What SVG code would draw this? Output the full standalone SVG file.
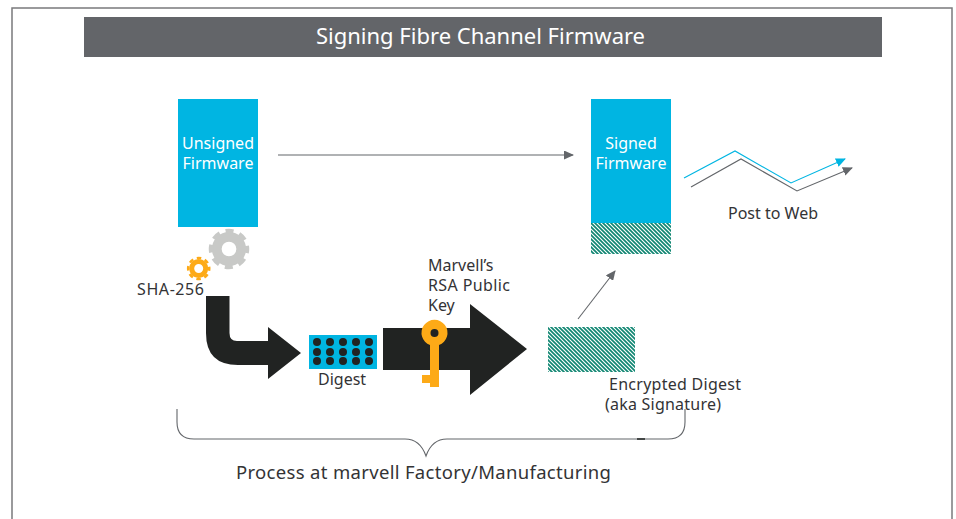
<svg xmlns="http://www.w3.org/2000/svg" width="956" height="519" viewBox="0 0 956 519">
<style>
text{font-family:"Noto Sans","Open Sans","Liberation Sans",sans-serif;font-size:16px;fill:#333335}
.w{fill:#fff;text-anchor:middle}
.blue{fill:#00b5e2}
.dark{fill:#212322}
.ln{fill:none;stroke:#63666a;stroke-width:1.1}
.gold{fill:#fdaa17}
</style>
<defs>
<pattern id="h" width="4" height="4" patternUnits="userSpaceOnUse">
<rect width="4" height="4" fill="#fff"/>
<path d="M-1,-1L5,5M-1,3L1,5M3,-1L5,1" stroke="#108672" stroke-width="1.7"/>
</pattern>
<marker id="ag" markerWidth="10" markerHeight="9" refX="9" refY="4.5" orient="auto" markerUnits="userSpaceOnUse"><path d="M0,0L10,4.5L0,9z" fill="#63666a"/></marker>
<marker id="ab" markerWidth="10" markerHeight="9" refX="9" refY="4.5" orient="auto" markerUnits="userSpaceOnUse"><path d="M0,0L10,4.5L0,9z" fill="#00b5e2"/></marker>
</defs>
<rect x="12" y="8" width="940" height="530" fill="#fff" stroke="#7a7a7c" stroke-width="1.5"/>
<g id="title"><rect x="84" y="17" width="798" height="40" fill="#636569"/><text class="w" x="480.500" y="44" style="font-size:22px">Signing Fibre Channel Firmware</text></g>
<g id="unsigned"><rect class="blue" x="178" y="99" width="80" height="128"/><text class="w" x="218" y="149">Unsigned</text><text class="w" x="218" y="169">Firmware</text></g>
<g id="signed"><rect class="blue" x="591" y="99" width="80" height="124"/><rect x="591" y="223" width="80" height="31" fill="url(#h)"/><text class="w" x="631" y="149">Signed</text><text class="w" x="631" y="169">Firmware</text></g>
<g id="gear-large" fill="none" stroke="#c8c9c7"><circle cx="229" cy="249" r="12.200" stroke-width="9.700"/><circle cx="229" cy="249" r="18" stroke-width="4.500" stroke-dasharray="8 6.137" stroke-dashoffset="4"/></g>
<g id="gear-small" fill="none" stroke="#fdaa17"><circle cx="198.700" cy="268.500" r="7" stroke-width="5"/><circle cx="198.700" cy="268.500" r="10.500" stroke-width="2.600" stroke-dasharray="4.500 3.747" stroke-dashoffset="2.250"/></g>
<g id="sha"><text x="137" y="295" textLength="67">SHA-256</text></g>
<g id="hash-arrow"><path class="dark" d="M206,296H229.500V333Q229.500,341 237,341H268V327L301,353L268,379V365H238Q206,365 206,333Z"/></g>
<g id="digest"><rect class="blue" x="309" y="335" width="68" height="34"/>
<g class="dark"><circle cx="317" cy="342" r="4"/><circle cx="330" cy="342" r="4"/><circle cx="343" cy="342" r="4"/><circle cx="356" cy="342" r="4"/><circle cx="369" cy="342" r="4"/><circle cx="317" cy="352" r="4"/><circle cx="330" cy="352" r="4"/><circle cx="343" cy="352" r="4"/><circle cx="356" cy="352" r="4"/><circle cx="369" cy="352" r="4"/><circle cx="317" cy="361" r="4"/><circle cx="330" cy="361" r="4"/><circle cx="343" cy="361" r="4"/><circle cx="356" cy="361" r="4"/><circle cx="369" cy="361" r="4"/></g>
<text x="318" y="385">Digest</text></g>
<g id="rsa-arrow"><path class="dark" d="M383,328H470V304L527,349L470,395V370H383Z"/></g>
<g id="key"><path class="gold" d="M430,345A13,13 0 1 1 439,345V387H430V383H422V375H430Z"/><circle class="dark" cx="434.500" cy="333" r="4"/></g>
<g id="rsa-label"><text x="428" y="271">Marvell’s</text><text x="428" y="291" textLength="82">RSA Public</text><text x="428" y="311">Key</text></g>
<g id="encrypted"><rect x="548" y="327" width="87" height="45" fill="url(#h)"/><text x="609" y="390" textLength="132">Encrypted Digest</text><text x="605" y="410" textLength="116">(aka Signature)</text></g>
<g id="connectors">
<path class="ln" marker-end="url(#ag)" d="M278,155H573"/>
<path class="ln" marker-end="url(#ag)" d="M578,319L615,271"/>
<path class="ln" style="stroke:#00b5e2" marker-end="url(#ab)" d="M684,178L735,151L791,183L845,159"/>
<path class="ln" marker-end="url(#ag)" d="M691,187L741,159L797,191L852,168"/>
</g>
<g id="post"><text x="728" y="219">Post to Web</text></g>
<g id="brace"><path class="ln" d="M177,409V422Q177,439 194,439H405Q420,439 426,456Q432,439 447,439H668Q685,439 685,422V409"/><path d="M637,439H645" stroke="#212322" stroke-width="1.5"/></g>
<g id="factory"><text x="236" y="479" style="font-size:18.500px" textLength="375">Process at marvell Factory/Manufacturing</text></g>
</svg>
